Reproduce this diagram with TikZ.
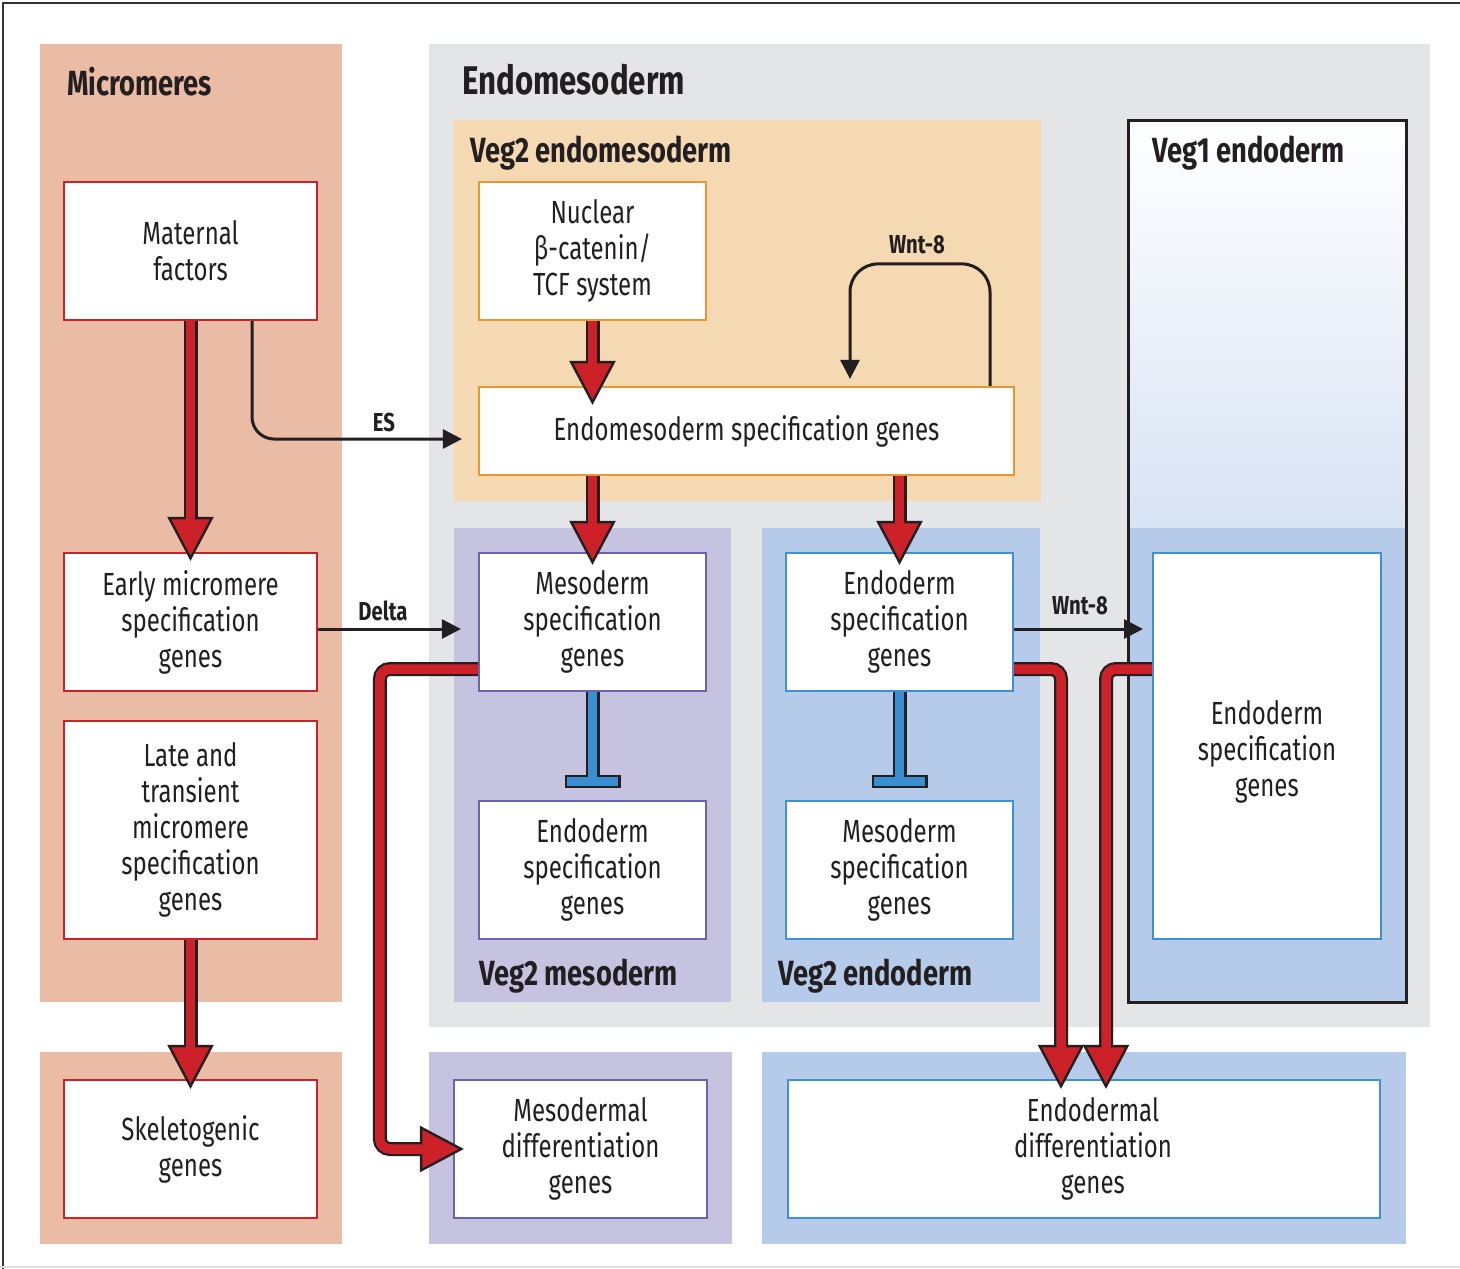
\documentclass[tikz,border=0pt]{standalone}
\usepackage{fontspec}
\setmainfont{Fira Sans}[FakeStretch=0.75, BoldFeatures={FakeStretch=0.78}]
\usetikzlibrary{arrows.meta}
\definecolor{bred}{RGB}{205,33,41}
\definecolor{salmon}{RGB}{234,188,165}
\definecolor{gbg}{RGB}{228,229,231}
\definecolor{obg}{RGB}{245,217,178}
\definecolor{oline}{RGB}{232,151,47}
\definecolor{pbg}{RGB}{198,195,225}
\definecolor{pline}{RGB}{106,100,174}
\definecolor{bbg}{RGB}{181,203,233}
\definecolor{bline}{RGB}{62,146,210}
\definecolor{bbar}{RGB}{58,143,210}
\definecolor{vlight}{RGB}{216,227,244}
\definecolor{txt}{RGB}{35,31,32}
\newcommand\mybody{\fontsize{32pt}{36pt}\selectfont}
\newcommand\mytitle{\fontsize{35pt}{40pt}\selectfont\bfseries}
\newcommand\mybig{\fontsize{40pt}{46pt}\selectfont\bfseries}
\newcommand\mylab{\fontsize{26pt}{30pt}\selectfont\bfseries}
\newcommand\fatarrow[2][]{%
  \draw[txt, line width=14pt, #1, -{Triangle[length=44pt,width=46pt,fill=bred,line width=2.4pt]}] #2;
  \draw[bred, line width=9.5pt, #1, shorten >=40pt] #2;}
\newcommand\inhib[1]{%
  \draw[txt, line width=14pt, -{Rectangle[length=13pt,width=56pt,fill=bbar,line width=2.2pt]}] #1;
  \draw[bbar, line width=9.5pt, shorten >=11pt] #1;}
\tikzset{
  box/.style={fill=white, line width=2.2pt, inner sep=0pt, align=center, font=\mybody, text=txt},
  rbox/.style={box, draw=bred},
  obox/.style={box, draw=oline},
  pbox/.style={box, draw=pline},
  bbox/.style={box, draw=bline},
  ttl/.style={inner sep=0pt, anchor=base west, font=\mytitle, text=txt},
  bigttl/.style={inner sep=0pt, anchor=base west, font=\mybig, text=txt},
  lab/.style={inner sep=0pt, anchor=base, font=\mylab, text=txt},
  thinarrow/.style={draw=txt, line width=3pt, -{Triangle[length=19pt,width=19pt]}}
}
\begin{document}
\begin{tikzpicture}[x=1pt,y=-1pt]
\useasboundingbox (0,0) rectangle (1460,1269);
\fill[white] (0,0) rectangle (1460,1269);
% frame
\draw[black!80, line width=2.5pt] (3,1269) -- (3,3) -- (1460,3);
\draw[black!12, line width=1.5pt] (0,1267) -- (1460,1267);
% backgrounds
\fill[salmon] (40,44) rectangle (342,1002);
\fill[salmon] (40,1052) rectangle (342,1244);
\fill[gbg] (429,44) rectangle (1430,1027);
\fill[obg] (454,120) rectangle (1041,501);
\fill[pbg] (454,528) rectangle (731,1002);
\fill[bbg] (762,528) rectangle (1040,1002);
\shade[top color=white, bottom color=vlight] (1128,120) rectangle (1406,528);
\fill[bbg] (1128,528) rectangle (1406,1002);
\draw[txt, line width=3pt] (1128,120) rectangle (1406,1002);
\fill[pbg] (429,1052) rectangle (732,1244);
\fill[bbg] (762,1052) rectangle (1406,1244);
% titles
\node[ttl] (tmic) at (67,95) {Micromeres};
\node[bigttl] (tendo) at (462,94) {Endomesoderm};
\node[ttl] (tv2em) at (470,162) {Veg2 endomesoderm};
\node[ttl] (tv1) at (1152,162) {Veg1 endoderm};
\node[ttl] (tv2m) at (479,985) {Veg2 mesoderm};
\node[ttl] (tv2e) at (778,985) {Veg2 endoderm};
% boxes
\node[rbox, minimum width=253pt, minimum height=138pt] (mat) at (190.5,251) {Maternal\\factors};
\node[rbox, minimum width=253pt, minimum height=138pt] (early) at (190.5,622) {Early micromere\\specification\\genes};
\node[rbox, minimum width=253pt, minimum height=218pt] (late) at (190.5,830) {Late and\\transient\\micromere\\specification\\genes};
\node[rbox, minimum width=253pt, minimum height=138pt] (skel) at (190.5,1149) {Skeletogenic\\genes};
\node[obox, minimum width=227pt, minimum height=138pt] (nuc) at (592.5,251) {Nuclear\\β-catenin/\\TCF system};
\node[obox, minimum width=535pt, minimum height=88pt] (ems) at (746.5,431) {Endomesoderm specification genes};
\node[pbox, minimum width=227pt, minimum height=138pt] (mesa) at (592.5,622) {Mesoderm\\specification\\genes};
\node[pbox, minimum width=227pt, minimum height=138pt] (endob) at (592.5,870) {Endoderm\\specification\\genes};
\node[bbox, minimum width=227pt, minimum height=138pt] (endoa) at (899.5,622) {Endoderm\\specification\\genes};
\node[bbox, minimum width=227pt, minimum height=138pt] (mesb) at (899.5,870) {Mesoderm\\specification\\genes};
\node[bbox, minimum width=228pt, minimum height=386pt] (veg1in) at (1267,746) {\rule{0pt}{14pt}\\[-14pt]Endoderm\\specification\\genes};
\node[pbox, minimum width=253pt, minimum height=138pt] (mesd) at (580.5,1149) {Mesodermal\\differentiation\\genes};
\node[bbox, minimum width=592pt, minimum height=138pt] (endd) at (1084,1149) {\hspace*{18pt}Endodermal\\\hspace*{18pt}differentiation\\\hspace*{18pt}genes};
% coordinates
\coordinate (t1) at (592.5,788);
\coordinate (t2) at (899.5,788);
\coordinate (w8end) at (1143,629);
% thin arrows
\draw[thinarrow, rounded corners=22pt] ([xshift=61.5pt]mat.south) |- ([xshift=-16pt,yshift=-8pt]ems.west);
\draw[thinarrow] ([yshift=-7pt]early.east) -- ([xshift=-17pt,yshift=-7pt]mesa.west);
\draw[thinarrow] ([yshift=-7pt]endoa.east) -- (w8end);
\draw[thinarrow, rounded corners=28pt] ([xshift=243.5pt]ems.north) -- ++(0,-122) -| ([xshift=103.5pt,yshift=7pt]ems.north);
\node[lab] (les) at (384,431) {ES};
\node[lab] (ldelta) at (383,620) {Delta};
\node[lab] (lw8a) at (917,253) {Wnt-8};
\node[lab] (lw8b) at (1080,614) {Wnt-8};
% fat red arrows
\fatarrow{(mat.south) -- ([yshift=-9pt]early.north)}
\fatarrow{(late.south) -- ([yshift=-10pt]skel.north)}
\fatarrow{(nuc.south) -- ([xshift=-154pt,yshift=-19pt]ems.north)}
\fatarrow{([xshift=-154pt]ems.south) -- ([yshift=-13pt]mesa.north)}
\fatarrow{([xshift=153pt]ems.south) -- ([yshift=-13pt]endoa.north)}
\fatarrow[rounded corners=10pt]{([yshift=-47pt]mesa.west) -- ++(-98,0) |- ([xshift=11pt]mesd.west)}
\fatarrow[rounded corners=10pt]{([yshift=-47pt]endoa.east) -| ([xshift=-23pt,yshift=-10pt]endd.north)}
\fatarrow[rounded corners=10pt]{([yshift=77pt]veg1in.west) -| ([xshift=22pt,yshift=-10pt]endd.north)}
% inhibition
\inhib{(mesa.south) -- (t1)}
\inhib{(endoa.south) -- (t2)}
\end{tikzpicture}
\end{document}
